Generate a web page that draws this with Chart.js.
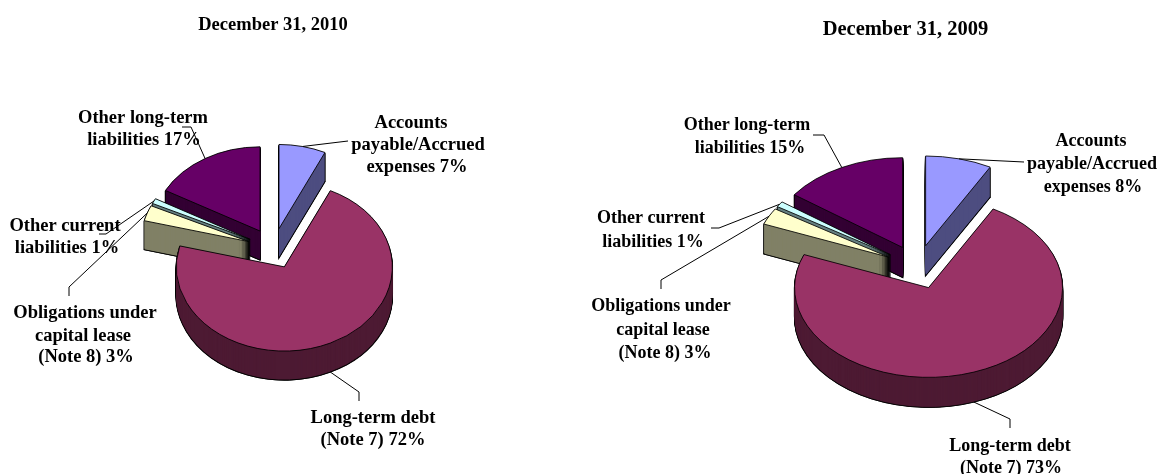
<!DOCTYPE html>
<html>
<head>
<meta charset="utf-8">
<style>
  html, body { margin: 0; padding: 0; background: #fff; overflow: hidden; }
  canvas { position: absolute; left: 0; top: 0; }
</style>
<script src="https://cdn.jsdelivr.net/npm/chart.js@4/dist/chart.umd.min.js"></script>
</head>
<body>
<canvas id="pie2010" width="1159" height="474"></canvas>
<canvas id="pie2009" width="1159" height="474"></canvas>
<script>
// Data
const categories = ["Accounts payable/Accrued expenses", "Long-term debt", "Obligations under capital lease", "Other current liabilities", "Other long-term liabilities"];
const values2010 = [7, 72, 3, 1, 17];
const values2009 = [8, 73, 3, 1, 15];

const labels2010 = [
  ["Accounts", "payable/Accrued", "expenses 7%"],
  ["Long-term debt", "(Note 7) 72%"],
  ["Obligations under", "capital lease", "(Note 8) 3%"],
  ["Other current", "liabilities 1%"],
  ["Other long-term", "liabilities 17%"]
];
const labels2009 = [
  ["Accounts", "payable/Accrued", "expenses 8%"],
  ["Long-term debt", "(Note 7) 73%"],
  ["Obligations under", "capital lease", "(Note 8) 3%"],
  ["Other current", "liabilities 1%"],
  ["Other long-term", "liabilities 15%"]
];

// Styles
const topColors = ["#9999FF", "#993366", "#FFFFCC", "#CCFFFF", "#660066"];
const wallColors = ["#4D4D80", "#4D1A33", "#808066", "#668080", "#330033"];
const drawOrder = [4, 0, 3, 2, 1]; // back to front

// Layout: line centres and leader bends for each slice
const layout2010 = {
  cx: 273.3, cy: 248.5, radius: 108, squash: 0.78, explode: 26, depth: 29, textSize: 18.5,
  title: { x: 273, y: 25, size: 18.5 },
  textX: [[411, 418, 417], [373, 373], [85, 83, 86], [65, 67], [143, 144]],
  textY: [[123, 145, 167], [418, 440], [313, 336, 357], [226, 248], [118, 140]],
  bends: [[[348, 141]], [[359, 392], [359, 401]], [[69, 287], [69, 296]], [[106, 234], [99, 234]], [[191, 127], [182, 127]]]
};
const layout2009 = {
  cx: 917.5, cy: 267, radius: 134, squash: 0.67, explode: 32.7, depth: 30, textSize: 18,
  title: { x: 905.5, y: 30, size: 20.5 },
  textX: [[1091, 1092, 1093], [1010, 1011], [661, 663, 665], [651, 653], [747, 750]],
  textY: [[141, 164, 187], [446, 468], [306, 330, 353], [218, 242], [125, 148]],
  bends: [[[1024, 162]], [[1010, 419], [1010, 428]], [[661, 280], [661, 289]], [[719, 228], [711, 228]], [[824, 135], [813, 135]]]
};

function drawArcWith(arc, ctx, overrides) {
  const saved = arc.options;
  arc.options = Object.assign({}, saved, overrides);
  arc.draw(ctx);
  arc.options = saved;
}

// Puts one slice in the tilted, exploded position; dy is the depth below the top face
function placeSlice(ctx, arc, cfg, dy) {
  const mid = (arc.startAngle + arc.endAngle) / 2;
  ctx.translate(arc.x, arc.y + dy);
  ctx.scale(1, cfg.squash);
  ctx.translate(Math.cos(mid) * cfg.explode - arc.x, Math.sin(mid) * cfg.explode - arc.y);
}

function makePie(id, titleText, values, labels, cfg) {
  const pie3d = {
    id: "pie3d",
    beforeDatasetDraw(chart, args) {
      const ctx = chart.ctx;
      const arcs = chart.getDatasetMeta(args.index).data;

      drawOrder.forEach(i => {
        const arc = arcs[i];
        // black outline of the wall
        for (let dy = cfg.depth; dy >= 1; dy--) {
          ctx.save();
          placeSlice(ctx, arc, cfg, dy);
          drawArcWith(arc, ctx, { backgroundColor: "#000", borderColor: "#000", borderWidth: 1.4 });
          ctx.restore();
        }
        // wall colour, the lowest step keeps a black edge
        for (let dy = cfg.depth; dy >= 1; dy--) {
          ctx.save();
          placeSlice(ctx, arc, cfg, dy);
          drawArcWith(arc, ctx, { backgroundColor: wallColors[i], borderWidth: dy === cfg.depth ? 1 : 0 });
          ctx.restore();
        }
        // top face
        ctx.save();
        placeSlice(ctx, arc, cfg, 0);
        arc.draw(ctx);
        ctx.restore();
      });
      return false;
    },
    afterDraw(chart) {
      const ctx = chart.ctx;
      const arcs = chart.getDatasetMeta(0).data;
      ctx.save();

      // leader lines start on the rim of each slice
      ctx.strokeStyle = "#000";
      ctx.lineWidth = 1;
      arcs.forEach((arc, i) => {
        const mid = (arc.startAngle + arc.endAngle) / 2;
        const r = cfg.radius + cfg.explode;
        const onFront = Math.sin(mid) > 0;
        const sx = arc.x + Math.cos(mid) * r;
        const sy = arc.y + Math.sin(mid) * r * cfg.squash + (onFront ? cfg.depth : 0);
        ctx.beginPath();
        ctx.moveTo(sx, sy);
        cfg.bends[i].forEach(p => ctx.lineTo(p[0], p[1]));
        ctx.stroke();
      });

      ctx.fillStyle = "#000";
      ctx.textAlign = "center";
      ctx.textBaseline = "middle";
      ctx.font = "bold " + cfg.textSize + "px 'Liberation Serif'";
      labels.forEach((lines, i) => {
        lines.forEach((line, j) => ctx.fillText(line, cfg.textX[i][j], cfg.textY[i][j]));
      });
      ctx.font = "bold " + cfg.title.size + "px 'Liberation Serif'";
      ctx.fillText(titleText, cfg.title.x, cfg.title.y);
      ctx.restore();
    }
  };

  const canvas = document.getElementById(id);
  return new Chart(canvas, {
    type: "pie",
    data: {
      labels: categories,
      datasets: [{
        data: values,
        backgroundColor: topColors,
        borderColor: "#000",
        borderWidth: 1,
        borderJoinStyle: "miter",
        radius: cfg.radius
      }]
    },
    options: {
      responsive: false,
      animation: false,
      devicePixelRatio: 1,
      layout: {
        // moves the chart area so its centre sits where the pie goes
        padding: {
          left: Math.max(2 * cfg.cx - canvas.width, 0),
          right: Math.max(canvas.width - 2 * cfg.cx, 0),
          top: Math.max(2 * cfg.cy - canvas.height, 0),
          bottom: Math.max(canvas.height - 2 * cfg.cy, 0)
        }
      },
      plugins: {
        legend: { display: false },
        tooltip: { enabled: false }
      }
    },
    plugins: [pie3d]
  });
}

makePie("pie2010", "December 31, 2010", values2010, labels2010, layout2010);
makePie("pie2009", "December 31, 2009", values2009, labels2009, layout2009);
</script>
</body>
</html>
